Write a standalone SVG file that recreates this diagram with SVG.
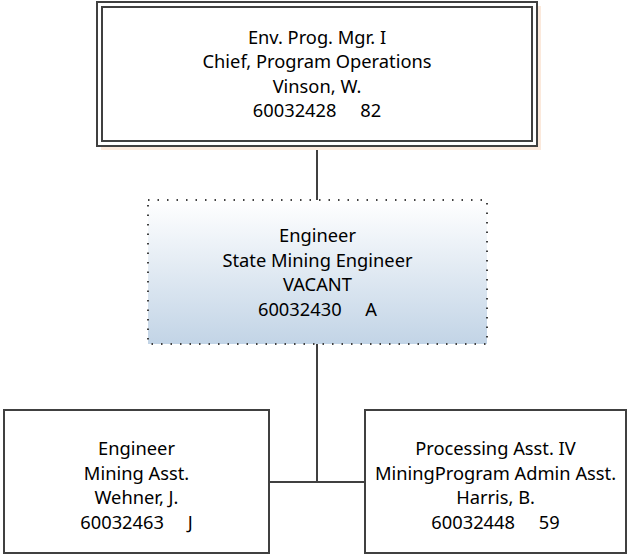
<svg xmlns="http://www.w3.org/2000/svg" width="628" height="554" viewBox="0 0 628 554">
<style>
text{font-family:"Noto Sans","Liberation Sans",sans-serif;font-size:18.3px;fill:#000;text-anchor:middle}
.ln{stroke:#404040;stroke-width:2;fill:none}
.bx{fill:#fff;stroke:#404040;stroke-width:2}
</style>
<defs>
<linearGradient id="g" x1="0" y1="0" x2="0" y2="1">
<stop offset="0" stop-color="#ffffff"/>
<stop offset="1" stop-color="#c2d4e6"/>
</linearGradient>
</defs>
<g id="connectors">
<line class="ln" x1="317" y1="146" x2="317" y2="200"/>
<line class="ln" x1="317" y1="344" x2="317" y2="482"/>
<line class="ln" x1="269" y1="482" x2="365" y2="482"/>
</g>
<g id="n1">
<rect x="101" y="6" width="440" height="144" fill="#fbe9dc"/>
<rect x="97" y="2" width="440" height="144" fill="#fff" stroke="#404040" stroke-width="2"/>
<rect x="102" y="7" width="430" height="134" fill="none" stroke="#404040" stroke-width="2"/>
<text x="317" y="43.5">Env. Prog. Mgr. I</text>
<text x="317" y="68">Chief, Program Operations</text>
<text x="317" y="92.5">Vinson, W.</text>
<text x="317" y="117" xml:space="preserve">60032428     82</text>
</g>
<g id="n2">
<rect x="148" y="200" width="339" height="144" fill="url(#g)" stroke="#404040" stroke-width="2" stroke-dasharray="1.5 8"/>
<text x="317.5" y="242">Engineer</text>
<text x="317.5" y="266.5">State Mining Engineer</text>
<text x="317.5" y="291">VACANT</text>
<text x="317.5" y="315.5" xml:space="preserve">60032430     A</text>
</g>
<g id="n3">
<rect class="bx" x="4" y="410" width="265" height="143"/>
<text x="136.5" y="455">Engineer</text>
<text x="136.5" y="479.5">Mining Asst.</text>
<text x="136.5" y="504">Wehner, J.</text>
<text x="136.5" y="528.5" xml:space="preserve">60032463     J</text>
</g>
<g id="n4">
<rect class="bx" x="365" y="410" width="261" height="143"/>
<text x="495.5" y="455">Processing Asst. IV</text>
<text x="495.5" y="479.5">MiningProgram Admin Asst.</text>
<text x="495.5" y="504">Harris, B.</text>
<text x="495.5" y="528.5" xml:space="preserve">60032448     59</text>
</g>
</svg>
